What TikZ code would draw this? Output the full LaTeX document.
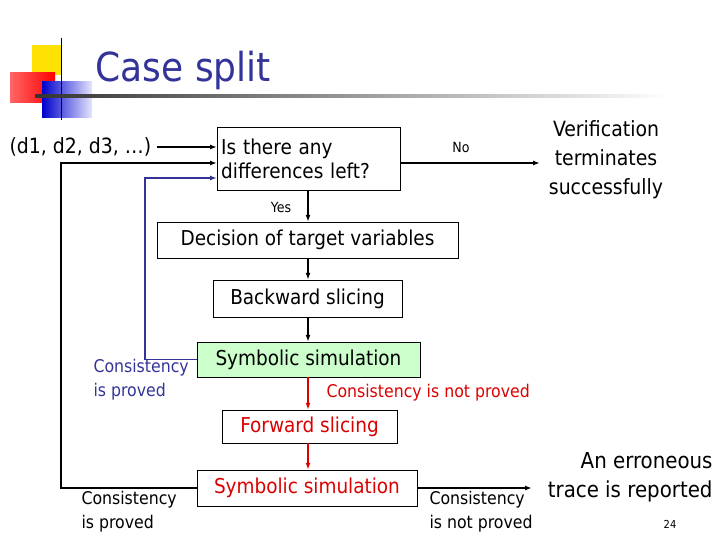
\documentclass[tikz,border=0pt]{standalone}
\usepackage{fontspec}
\setmainfont{DejaVu Sans Condensed}
\usetikzlibrary{arrows.meta}
\definecolor{ttl}{RGB}{51,51,153}
\definecolor{bl}{RGB}{51,51,153}
\definecolor{rd}{RGB}{220,0,0}
\definecolor{gfill}{RGB}{204,255,204}
\begin{document}
\begin{tikzpicture}[x=1pt,y=-1pt,
  box/.style={draw,thin,inner sep=2pt,font=\fontsize{20.5}{24}\selectfont},
  arr/.style={-{Latex[length=7pt,width=5pt]},line width=1.6pt},
  lbl/.style={font=\fontsize{17}{20}\selectfont,align=left},
  big/.style={font=\fontsize{21}{25}\selectfont,align=left}]
\useasboundingbox (0,0) rectangle (720,540);
% logo
\fill[yellow!85!orange] (32,45) rectangle (62,75);
\shade[left color=red!60!white, right color=red] (10,73) rectangle (55,103);
\shade[left color=blue!80!black, right color=blue!10] (42,82) rectangle (92,118);
\draw[thick] (61,38) -- (61,120);
\shade[left color=black!80, right color=white] (35,95) rectangle (670,97.5);
\node[anchor=west,text=ttl,font=\fontsize{40}{44}\selectfont] (title) at (92,70) {Case split};
% nodes
\node[big,anchor=west] (d) at (6,147) {(d1, d2, d3, …)};
\node[box,align=left,minimum width=183pt,minimum height=63pt,anchor=north west,text width=175pt] (q) at (217,127) {Is there any\\differences left?};
\node[big,align=center,font=\fontsize{21}{29}\selectfont] (ver) at (606,160) {Verification\\terminates\\successfully};
\node[box,minimum width=301pt,minimum height=36pt] (dec) at (307.5,240) {Decision of target variables};
\node[box,minimum width=189pt,minimum height=37pt] (bs) at (307.5,298.5) {Backward slicing};
\node[box,fill=gfill,minimum width=223pt,minimum height=35pt] (ss1) at (308.5,359.5) {Symbolic simulation};
\node[box,text=rd,minimum width=175pt,minimum height=33pt] (fs) at (309.5,426.5) {Forward slicing};
\node[box,text=rd,minimum width=220pt,minimum height=36pt] (ss2) at (307,488) {Symbolic simulation};
\node[lbl,font=\fontsize{14}{16}\selectfont] (no) at (461,147) {No};
\node[lbl,font=\fontsize{14}{16}\selectfont] (yes) at (281,207) {Yes};
\node[lbl,text=bl,anchor=north west,font=\fontsize{17.5}{24}\selectfont] (cp1) at (90,356) {Consistency\\is proved};
\node[lbl,text=rd,anchor=west,font=\fontsize{17.5}{20}\selectfont] (cnp1) at (323,393) {Consistency is not proved};
\node[lbl,anchor=north west,font=\fontsize{17.5}{24}\selectfont] (cp2) at (78,488) {Consistency\\is proved};
\node[lbl,anchor=north west,font=\fontsize{17.5}{24}\selectfont] (cnp2) at (426,488) {Consistency\\is not proved};
\node[big,anchor=east,align=right,font=\fontsize{22}{29}\selectfont] (err) at (716,477) {An erroneous\\trace is reported};
\node[font=\fontsize{11}{13}\selectfont] (pg) at (670,524) {24};
% connectors
\coordinate (qa) at (217,147);
\coordinate (qb) at (217,163);
\coordinate (qc) at (217,178);
\coordinate (vr) at (540,163);
\coordinate (er) at (532,488);
\coordinate (cx) at (308,0);
\draw[arr] (d.east) ++(2,0) -- (qa);
\draw[arr] (q.east |- qb) -- (vr);
\draw[arr] (cx |- q.south) -- (cx |- dec.north);
\draw[arr] (cx |- dec.south) -- (cx |- bs.north);
\draw[arr] (cx |- bs.south) -- (cx |- ss1.north);
\draw[arr,rd] (cx |- ss1.south) -- (cx |- fs.north);
\draw[arr,rd] (cx |- fs.south) -- (cx |- ss2.north);
\draw[arr] (ss2.east) -- (er);
\draw[arr,bl] (ss1.west) -| (145,178) -- (qc);
\draw[arr] (ss2.west) -| (61,163) -- (qb);
\end{tikzpicture}
\end{document}
